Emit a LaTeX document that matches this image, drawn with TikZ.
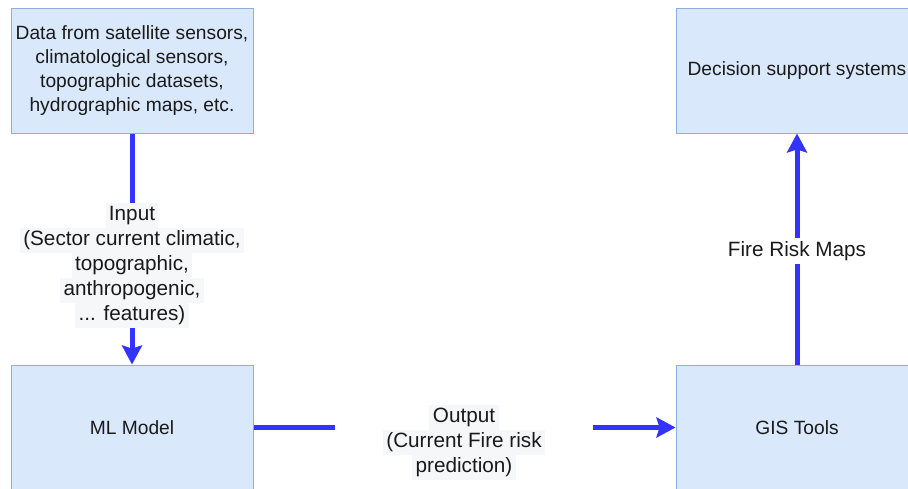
\documentclass[tikz,border=0pt]{standalone}
\usepackage{fontspec}
\setmainfont{Liberation Sans}
\usetikzlibrary{arrows.meta}
\definecolor{boxfill}{HTML}{DAE8FC}
\definecolor{boxdraw}{HTML}{8EADE0}
\definecolor{arrowblue}{HTML}{3333FF}
\definecolor{lblbg}{HTML}{F6F7F9}
\definecolor{txt}{HTML}{1A1A1A}
\newcommand\hlline[1]{{\setlength\fboxsep{0pt}\colorbox{lblbg}{\strut\,#1\,}}}
\tikzset{
  box/.style={draw=boxdraw, fill=boxfill, line width=1pt, minimum width=242pt, minimum height=125pt, align=center, inner sep=0pt, text=txt, font=\fontsize{19.2}{24}\selectfont},
  conn/.style={draw=arrowblue, line width=5pt, -{Stealth[length=19pt, width=20pt, inset=3pt]}},
  lbl/.style={fill=white, align=center, inner sep=0pt, text=txt, font=\fontsize{20.7}{25}\selectfont}
}
\begin{document}
\begin{tikzpicture}[x=1pt, y=-1pt]
\useasboundingbox (0,0) rectangle (908,488);
\clip (0,0) rectangle (908,488);
\fill[white] (0,0) rectangle (908,488);
\node[box] (data) at (132,70.5) {Data from satellite sensors,\\ climatological sensors,\\ topographic datasets,\\ hydrographic maps, etc.};
\node[box] (dss) at (797,70.5) {Decision support systems};
\node[box] (ml) at (132,427.5) {ML Model};
\node[box] (gis) at (797,427.5) {GIS Tools};
\draw[conn] (data.south) -- (ml.north);
\draw[conn] (ml.east) -- (gis.west);
\draw[conn] (gis.north) -- (dss.south);
\node[lbl, minimum height=125pt] (inlbl) at (132,265.5) {\hlline{Input}\\ \hlline{(Sector current climatic,}\\ \hlline{topographic,}\\ \hlline{anthropogenic,}\\ \hlline{... features)}};
\node[lbl, minimum width=258pt, minimum height=76pt] (outlbl) at (464,442) {\hlline{Output}\\ \hlline{(Current Fire risk}\\ \hlline{prediction)}};
\node[lbl, inner xsep=2pt, minimum height=26pt] (frlbl) at (797,251) {Fire Risk Maps};
\end{tikzpicture}
\end{document}
